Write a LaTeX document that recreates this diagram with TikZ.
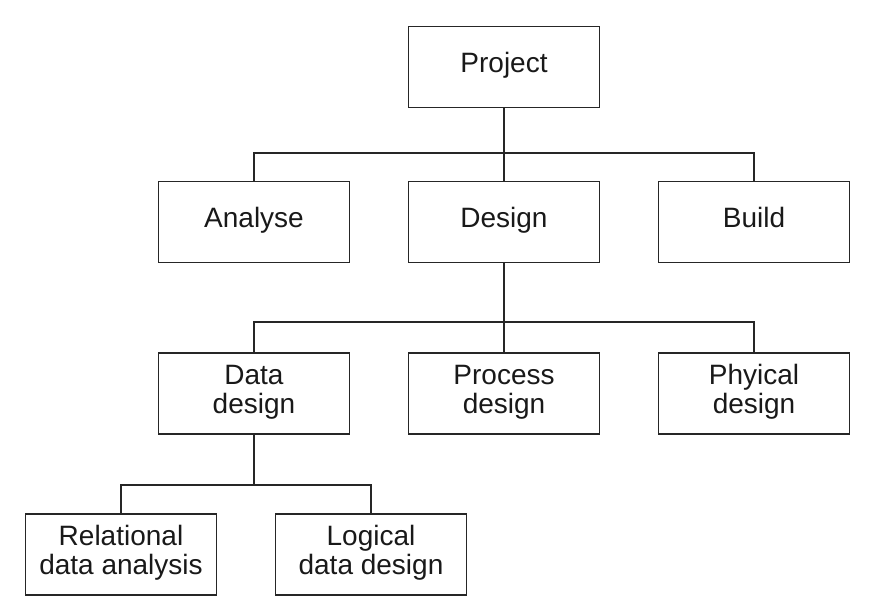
\documentclass[tikz,border=0pt]{standalone}
\usepackage{fontspec}
\setmainfont{Liberation Sans}
\begin{document}
\begin{tikzpicture}[x=1pt,y=-1pt,
  box/.style={draw=black!85, line width=1.9pt, minimum width=191pt, minimum height=81pt,
    inner sep=0pt, align=center, font=\fontsize{28}{29}\selectfont, text=black!90},
  conn/.style={draw=black!85, line width=1.7pt}]
\useasboundingbox (0,0) rectangle (886,610);
\node[box] (project) at (504,67) {\strut Project};
\node[box] (analyse) at (254,222) {\strut Analyse};
\node[box] (design) at (504,222) {\strut Design};
\node[box] (build) at (754,222) {\strut Build};
\node[box] (data) at (254,393.5) {\strut Data\\\strut design};
\node[box] (process) at (504,393.5) {\strut Process\\\strut design};
\node[box] (phys) at (754,393.5) {\strut Phyical\\\strut design};
\node[box] (rel) at (121,554.5) {\strut Relational\\\strut data analysis};
\node[box] (log) at (371,554.5) {\strut Logical\\\strut data design};
\coordinate (j1) at (504,153);
\coordinate (j2) at (504,322);
\coordinate (j3) at (254,485);
\draw[conn] (project.south) -- (j1);
\draw[conn] (analyse.north) |- (j1) -| (build.north);
\draw[conn] (j1) -- (design.north);
\draw[conn] (design.south) -- (j2);
\draw[conn] (data.north) |- (j2) -| (phys.north);
\draw[conn] (j2) -- (process.north);
\draw[conn] (data.south) -- (j3);
\draw[conn] (rel.north) |- (j3) -| (log.north);
\end{tikzpicture}
\end{document}
